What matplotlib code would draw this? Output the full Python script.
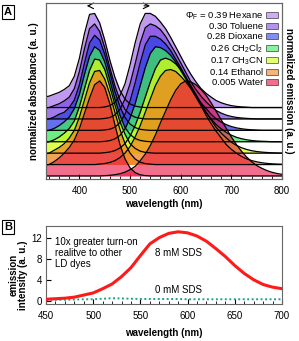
import numpy as np
import matplotlib
matplotlib.use("Agg")
import matplotlib.pyplot as plt
from matplotlib.patches import Patch
from matplotlib.ticker import MultipleLocator

plt.rcParams["font.family"] = ["Liberation Sans", "DejaVu Sans"]
plt.rcParams["mathtext.fontset"] = "custom"
plt.rcParams["mathtext.rm"] = "Liberation Sans"
plt.rcParams["mathtext.it"] = "Liberation Sans:italic"
plt.rcParams["mathtext.bf"] = "Liberation Sans:bold"

# Panel A: normalized absorbance and emission, stacked by solvent (top to bottom)
wavelength = np.arange(330, 801, 10)
solvents = ["Hexane", "Toluene", "Dioxane", "CH$_2$Cl$_2$", "CH$_3$CN", "Ethanol", "Water"]
phi_f = ["0.39", "0.30", "0.28", "0.26", "0.17", "0.14", "0.005"]
colors = ["#ab78eb", "#804de5", "#3040e8", "#3de85d", "#d5ff15", "#f0851b", "#e8103f"]
alphas = [0.75, 0.75, 0.75, 0.75, 0.75, 0.75, 0.6]

# absorbance (330 ... 800 nm, every 10 nm)
hexane_abs = [.11, .12, .14, .16, .19, .23, .33, .52, .78, .98, .99,
              .89, .71, .50, .32, .18, .088, .038, .015, .005, 0] + [0] * 27
toluene_abs = [.11, .12, .14, .16, .19, .23, .32, .50, .74, .95, 1.0,
               .92, .75, .54, .35, .20, .10, .046, .018, .007, 0] + [0] * 27
dioxane_abs = [.11, .12, .14, .17, .19, .24, .32, .48, .71, .92, 1.0,
               .95, .80, .61, .41, .25, .135, .066, .029, .011, .004] + [0] * 27
ch2cl2_abs = [.11, .12, .14, .17, .21, .26, .35, .50, .71, .90, 1.0,
              .96, .84, .65, .45, .28, .15, .077, .034, .014, .005] + [0] * 27
ch3cn_abs = [.11, .12, .14, .17, .21, .26, .34, .49, .68, .87, .99,
             .98, .88, .70, .51, .33, .20, .10, .05, .021, .008, .003] + [0] * 26
ethanol_abs = [.11, .12, .15, .18, .22, .28, .36, .50, .68, .86, .98,
               .99, .90, .74, .55, .37, .22, .12, .058, .025, .01, .004] + [0] * 26
water_abs = [.11, .12, .15, .19, .24, .30, .38, .50, .66, .82, .96,
             1.0, .93, .76, .54, .33, .18, .085, .035, .012, .004] + [0] * 27

# emission (330 ... 800 nm, every 10 nm)
hexane_em = [0] * 12 + [.006, .019, .053, .125, .25, .45, .68, .88, .99,
                        .99, .96, .90, .83, .74, .64, .54, .44, .35, .27,
                        .20, .15, .11, .074, .05, .033, .02, .012, .007, .004,
                        0, 0, 0, 0, 0, 0, 0]
toluene_em = [0] * 12 + [.005, .015, .042, .10, .21, .37, .58, .80, .96,
                         1.0, .98, .94, .87, .78, .69, .59, .49, .39, .31,
                         .24, .18, .13, .089, .061, .04, .026, .016, .01, .006,
                         .003, 0, 0, 0, 0, 0, 0]
dioxane_em = [0] * 12 + [.004, .012, .033, .08, .17, .31, .50, .71, .90,
                         .99, .99, .96, .91, .84, .75, .66, .56, .46, .37,
                         .29, .23, .17, .12, .087, .06, .04, .026, .017, .01,
                         .006, .003, 0, 0, 0, 0, 0]
ch2cl2_em = [0] * 12 + [.004, .012, .03, .067, .135, .25, .40, .59, .78,
                        .93, 1.0, .99, .96, .91, .84, .75, .66, .57, .48,
                        .39, .31, .24, .18, .135, .098, .069, .047, .032, .021,
                        .013, .008, .005, .003, 0, 0, 0]
ch3cn_em = [0] * 12 + [.005, .012, .027, .054, .10, .18, .29, .43, .59,
                       .75, .89, .98, 1.0, .98, .94, .88, .80, .71, .62,
                       .52, .43, .35, .27, .21, .16, .115, .082, .057, .039,
                       .026, .017, .011, .007, .004, .002, 0]
ethanol_em = [0] * 11 + [.005, .011, .022, .041, .073, .12, .19, .29, .41, .55,
                         .69, .83, .93, .99, 1.0, .98, .93, .87, .80, .71,
                         .62, .52, .43, .35, .28, .21, .16, .12, .086, .06,
                         .042, .029, .019, .012, .008, .005, .003]
water_em = [0] * 12 + [.003, .007, .013, .023, .04, .066, .10, .16, .23,
                       .32, .43, .56, .68, .80, .90, .97, 1.0, .99, .96,
                       .91, .85, .77, .68, .59, .50, .41, .33, .26, .20,
                       .15, .11, .081, .057, .039, .026, .017]

absorbance = [hexane_abs, toluene_abs, dioxane_abs, ch2cl2_abs, ch3cn_abs, ethanol_abs, water_abs]
emission = [hexane_em, toluene_em, dioxane_em, ch2cl2_em, ch3cn_em, ethanol_em, water_em]
offset_step = 0.12

# Panel B: emission intensity in SDS
sds_wavelength = np.arange(450, 701, 10)
sds_8mM = [0.3, 0.4, 0.5, 0.7, 1.1, 1.5, 2.3, 3.2, 4.6, 6.3, 8.6, 10.8, 12.0,
           12.8, 13.1, 12.9, 12.3, 11.3, 9.9, 8.4, 6.7, 5.2, 4.0, 3.1, 2.6, 2.3]
sds_0mM = [0.2, 0.2, 0.2, 0.25, 0.3, 0.3, 0.4, 0.5, 0.45, 0.4, 0.35, 0.35, 0.35,
           0.35, 0.35, 0.3, 0.3, 0.3, 0.3, 0.3, 0.3, 0.3, 0.3, 0.3, 0.3, 0.3]

W, H = 299, 341
fig = plt.figure(figsize=(W / 100, H / 100), dpi=100)

def box(l, t, r, b):
    return [l / W, 1 - b / H, (r - l) / W, (b - t) / H]

axA = fig.add_axes(box(46, 3, 282, 179))
n = len(absorbance)
for i in range(n):
    base = (n - 1 - i) * offset_step
    for vals in (absorbance[i], emission[i]):
        y = base + np.array(vals)
        axA.fill_between(wavelength, base, y, color=colors[i], alpha=alphas[i],
                         lw=0, zorder=2 + i)
        axA.plot(wavelength, y, color="black", lw=0.9, zorder=20)

axA.set_xlim(334, 800)
axA.set_ylim(-0.032, 1.82)
axA.set_yticks([])
axA.xaxis.set_major_locator(MultipleLocator(100))
axA.xaxis.set_minor_locator(MultipleLocator(20))
axA.tick_params(axis="x", which="both", direction="in", labelsize=7, pad=5)
axA.tick_params(axis="x", which="major", length=3.5)
axA.tick_params(axis="x", which="minor", length=2)
axA.set_xlabel("wavelength (nm)", fontsize=7, fontweight="bold", labelpad=2)
axA.set_ylabel("normalized absorbance (a. u.)", fontsize=7, fontweight="bold", labelpad=5)
axR = axA.twinx()
axR.set_yticks([])
axR.set_ylabel("normalized emission (a. u.)", fontsize=7, fontweight="bold",
               rotation=270, labelpad=9)
for ax in (axA, axR):
    for s in ax.spines.values():
        s.set_color("#666666")
        s.set_linewidth(0.8)

# shift arrows
axA.annotate("", xy=(409, 1.79), xytext=(426, 1.79),
             arrowprops=dict(arrowstyle="->", lw=0.8, color="black"), zorder=30)
axA.annotate("", xy=(545, 1.79), xytext=(522, 1.79),
             arrowprops=dict(arrowstyle="->", lw=0.8, color="black"), zorder=30)

handles = [Patch(facecolor=c, alpha=0.6, edgecolor="black", lw=0.6) for c in colors]
labels = [r"$\Phi_\mathrm{F}$ = %s %s" % (phi_f[0], solvents[0])] + \
         ["%s %s" % (p, s) for p, s in zip(phi_f[1:], solvents[1:])]
leg = axA.legend(handles, labels, loc="upper right", bbox_to_anchor=(0.983, 0.96),
                 frameon=False, fontsize=6.8, markerfirst=False, alignment="right",
                 handlelength=1.25, handleheight=0.6, handletextpad=0.3,
                 labelspacing=0.1, borderpad=0, borderaxespad=0)
leg.set_zorder(40)

fig.text(8 / W, 1 - 12 / H, "A", fontsize=8, fontweight="bold", ha="center", va="center",
         bbox=dict(boxstyle="square,pad=0.15", fc="white", ec="black", lw=0.8))

# Panel B
axB = fig.add_axes(box(46, 226, 282, 304))
axB.plot(sds_wavelength, sds_8mM, color="#ff1a1a", lw=2.2, zorder=3)
axB.plot(sds_wavelength, sds_0mM, color="#1aa58a", lw=1.4, ls=(0, (1, 1.3)), zorder=2)
axB.set_xlim(450, 700)
axB.set_ylim(-0.6, 14.2)
axB.set_yticks([0, 4, 8, 12])
axB.xaxis.set_major_locator(MultipleLocator(50))
axB.xaxis.set_minor_locator(MultipleLocator(10))
axB.tick_params(axis="both", which="both", direction="in", labelsize=7)
axB.tick_params(axis="x", which="both", pad=5)
axB.tick_params(axis="y", which="both", pad=3)
axB.tick_params(axis="both", which="major", length=3.5)
axB.tick_params(axis="x", which="minor", length=2)
for s in axB.spines.values():
    s.set_color("#666666")
    s.set_linewidth(0.8)
axB.set_xlabel("wavelength (nm)", fontsize=7, fontweight="bold", labelpad=5)
axB.set_ylabel("emission\nintensity (a. u.)", fontsize=7, fontweight="bold", linespacing=1.0)
axB.yaxis.set_label_coords(-0.075, 0.37)
axB.text(0.04, 0.86, "10x greater turn-on\nrealitve to other\nLD dyes", transform=axB.transAxes,
         fontsize=7, va="top", ha="left", linespacing=1.15)
axB.text(565, 9.1, "8 mM SDS", fontsize=7, va="center", ha="left")
axB.text(565, 2.1, "0 mM SDS", fontsize=7, va="center", ha="left")

fig.text(8 / W, 1 - 227 / H, "B", fontsize=8, fontweight="bold", ha="center", va="center",
         bbox=dict(boxstyle="square,pad=0.15", fc="white", ec="black", lw=0.8))

fig.savefig("out.png", dpi=100)
